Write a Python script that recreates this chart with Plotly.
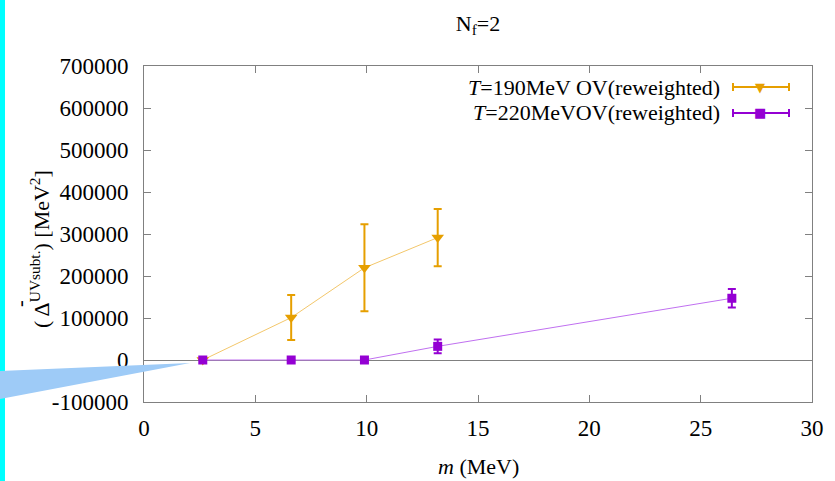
import plotly.graph_objects as go

# ---- data ----
m_190 = [2.64, 6.61, 9.90, 13.19]
val_190 = [0, 101000, 219500, 291500]
err_190 = [0, 53500, 103500, 68000]

m_220 = [2.64, 6.61, 9.90, 13.19, 26.40]
val_220 = [0, 0, 0, 32500, 147000]
err_220 = [0, 0, 0, 16500, 22000]

label_190 = "<i>T</i>=190MeV OV(reweighted)"
label_220 = "<i>T</i>=220MeVOV(reweighted)"

x_ticks = [0, 5, 10, 15, 20, 25, 30]
y_ticks = [-100000, 0, 100000, 200000, 300000, 400000, 500000, 600000, 700000]

ORANGE = "#E69F00"
PURPLE = "#9400D3"
FONT = "Liberation Serif"

W, H = 835, 481
L, R, T, B = 144, 812, 66, 402


def px(xp):
    return (xp - L) / (R - L)


def py(yp):
    return (B - yp) / (B - T)


fig = go.Figure()
fig.add_trace(go.Scatter(
    x=m_190, y=val_190, mode="lines+markers", name=label_190,
    line=dict(color="#F3C76B", width=1),
    marker=dict(symbol="triangle-down", size=11, color=ORANGE),
    error_y=dict(type="data", array=err_190, color=ORANGE, thickness=2, width=4),
    showlegend=False,
))
fig.add_trace(go.Scatter(
    x=m_220, y=val_220, mode="lines+markers", name=label_220,
    line=dict(color="#C070F0", width=1),
    marker=dict(symbol="square", size=9, color=PURPLE),
    error_y=dict(type="data", array=err_220, color=PURPLE, thickness=2, width=4),
    showlegend=False,
))

shapes = []
annotations = []
# left cyan bar and light-blue pointer (decoration in the reference screenshot)
shapes.append(dict(type="rect", xref="paper", yref="paper",
                   x0=px(0), x1=px(5), y0=py(H), y1=py(0),
                   fillcolor="#00FFFF", line=dict(width=0), layer="above"))
shapes.append(dict(type="path", xref="paper", yref="paper",
                   path=f"M {px(0)} {py(371)} L {px(190)} {py(363)} L {px(0)} {py(399)} Z",
                   fillcolor="#9ECBF7", line=dict(width=0), layer="above"))

# custom gnuplot-like legend: text then sample
rows = [(label_190, 87, ORANGE, "▼"), (label_220, 113, PURPLE, "■")]
for text, yc, col, sym in rows:
    annotations.append(dict(xref="paper", yref="paper", x=px(722), y=py(yc),
                            xanchor="right", yanchor="middle", text=text,
                            showarrow=False, font=dict(family=FONT, size=22, color="black")))
    shapes.append(dict(type="line", xref="paper", yref="paper",
                       x0=px(733), x1=px(789), y0=py(yc), y1=py(yc),
                       line=dict(color=col, width=2)))
    for xe in (733, 789):
        shapes.append(dict(type="line", xref="paper", yref="paper",
                           x0=px(xe), x1=px(xe), y0=py(yc - 4), y1=py(yc + 4),
                           line=dict(color=col, width=2)))
    annotations.append(dict(xref="paper", yref="paper", x=px(760), y=py(yc),
                            xanchor="center", yanchor="middle", text=sym,
                            showarrow=False, font=dict(family="DejaVu Sans", size=13, color=col)))

# axis titles
annotations.append(dict(xref="paper", yref="paper", x=px(478), y=py(466),
                        xanchor="center", yanchor="middle", text="<i>m</i> (MeV)",
                        showarrow=False, font=dict(family=FONT, size=22, color="black")))
annotations.append(dict(xref="paper", yref="paper", x=px(40), y=py(249),
                        xanchor="center", yanchor="middle", textangle=-90,
                        text="( Δ<sup>UVsubt.</sup>) [MeV<sup>2</sup>]",
                        showarrow=False, font=dict(family=FONT, size=22, color="black")))
# bar over the Delta (gnuplot overprint)
annotations.append(dict(xref="paper", yref="paper", x=px(20), y=py(304),
                        xanchor="center", yanchor="middle", textangle=-90,
                        text="-", showarrow=False,
                        font=dict(family=FONT, size=20, color="black")))

axis_common = dict(
    showgrid=False, ticks="inside", ticklen=7, tickcolor="#808080",
    showline=True, linecolor="#808080", linewidth=1, mirror="ticks",
    tickfont=dict(family=FONT, size=23, color="black"),
)

fig.update_layout(
    width=W, height=H,
    margin=dict(l=L, r=W - R, t=T, b=H - B),
    paper_bgcolor="white", plot_bgcolor="white",
    title=dict(text="N<sub>f</sub>=2", x=478 / W, xanchor="center",
               y=1 - 23 / H, yanchor="middle", font=dict(family=FONT, size=22, color="black")),
    xaxis=dict(range=[0, 30], tickvals=x_ticks, zeroline=False,
               ticklabelstandoff=5, **axis_common),
    yaxis=dict(range=[-100000, 700000], tickvals=y_ticks, ticktext=[str(v) for v in y_ticks],
               zeroline=True, zerolinecolor="#808080", zerolinewidth=1,
               ticklabelstandoff=10, **axis_common),
    shapes=shapes, annotations=annotations,
)

fig.write_html("out.html")
